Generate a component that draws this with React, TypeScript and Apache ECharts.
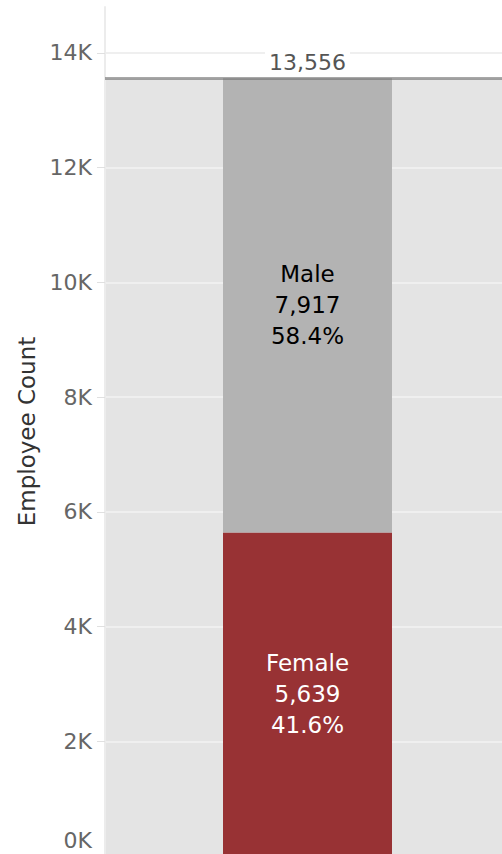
import React, { useEffect, useRef } from "react";
import * as echarts from "echarts";

const categories = ["All Employees"];
const femaleValues = [5639];
const maleValues = [7917];
const yTickValues = [0, 2000, 4000, 6000, 8000, 10000, 12000, 14000];
const yMax = 14800;
const yAxisName = "Employee Count";

const FONT = "DejaVu Sans";

export default function App() {
  const ref = useRef<HTMLDivElement>(null);

  useEffect(() => {
    if (!ref.current) return;
    const chart = echarts.init(ref.current, undefined, { renderer: "svg" });
    const totals = femaleValues.map((v, i) => v + maleValues[i]);
    const pct = (v: number, i: number) => ((v / totals[i]) * 100).toFixed(1) + "%";
    const fmt = (v: number) => v.toLocaleString("en-US");

    chart.setOption({
      animation: false,
      textStyle: { fontFamily: FONT },
      grid: { left: 105, right: 0, top: 7, bottom: 0, containLabel: false, outerBoundsMode: "none" },
      xAxis: [
        { type: "category", data: categories, show: false },
        { type: "category", data: categories, show: false },
      ],
      yAxis: {
        type: "value",
        min: 0,
        max: yMax,
        interval: 2000,
        z: 1.5,
        name: yAxisName,
        nameLocation: "middle",
        nameGap: 66,
        nameTextStyle: { fontFamily: FONT, fontSize: 23, color: "#333333" },
        axisLine: { show: true, lineStyle: { color: "#ececec", width: 2 } },
        axisTick: {
          show: true,
          length: 8,
          customValues: yTickValues,
          lineStyle: { color: "#e0e0e0", width: 1 },
        },
        axisLabel: {
          customValues: yTickValues,
          margin: 13,
          fontFamily: FONT,
          fontSize: 22,
          color: "#666666",
          formatter: (v: number) => (v === 0 ? "{z|0K}" : v / 1000 + "K"),
          rich: {
            z: { fontFamily: FONT, fontSize: 22, color: "#666666", padding: [0, 0, 31, 0] },
          },
        },
        splitLine: { show: true, lineStyle: { color: "#efefef", width: 2 } },
      },
      series: [
        {
          name: "Total",
          type: "bar",
          xAxisIndex: 1,
          data: totals,
          barWidth: "100%",
          z: 1,
          silent: true,
          itemStyle: { color: "#e4e4e4" },
        },
        {
          name: "Female",
          type: "bar",
          stack: "gender",
          data: femaleValues,
          barWidth: 169,
          z: 2,
          itemStyle: { color: "#983234" },
          label: {
            show: true,
            position: "inside",
            fontFamily: FONT,
            fontSize: 23,
            lineHeight: 31,
            color: "#ffffff",
            formatter: (p: any) => `${p.seriesName}\n${fmt(p.value)}\n${pct(p.value, p.dataIndex)}`,
          },
        },
        {
          name: "Male",
          type: "bar",
          stack: "gender",
          data: maleValues,
          barWidth: 169,
          z: 2,
          itemStyle: { color: "#b3b3b3" },
          label: {
            show: true,
            position: "inside",
            fontFamily: FONT,
            fontSize: 23,
            lineHeight: 31,
            color: "#000000",
            formatter: (p: any) => `${p.seriesName}\n${fmt(p.value)}\n${pct(p.value, p.dataIndex)}`,
          },
          markLine: {
            silent: true,
            symbol: "none",
            lineStyle: { color: "rgba(110,110,110,0.6)", width: 3, type: "solid" },
            label: {
              show: true,
              position: "insideMiddleTop",
              distance: 5,
              fontFamily: FONT,
              fontSize: 22,
              color: "#555555",
              backgroundColor: "#ffffff",
              padding: [0, 4],
              formatter: (p: any) => fmt(p.value),
            },
            data: [{ yAxis: totals[0] }],
          },
        },
      ],
    });
    return () => chart.dispose();
  }, []);

  return (
    <div style={{ position: "absolute", left: 0, top: 0, width: 502, height: 854, overflow: "hidden", background: "#fff" }}>
      <div ref={ref} style={{ width: 510, height: 856 }} />
    </div>
  );
}
